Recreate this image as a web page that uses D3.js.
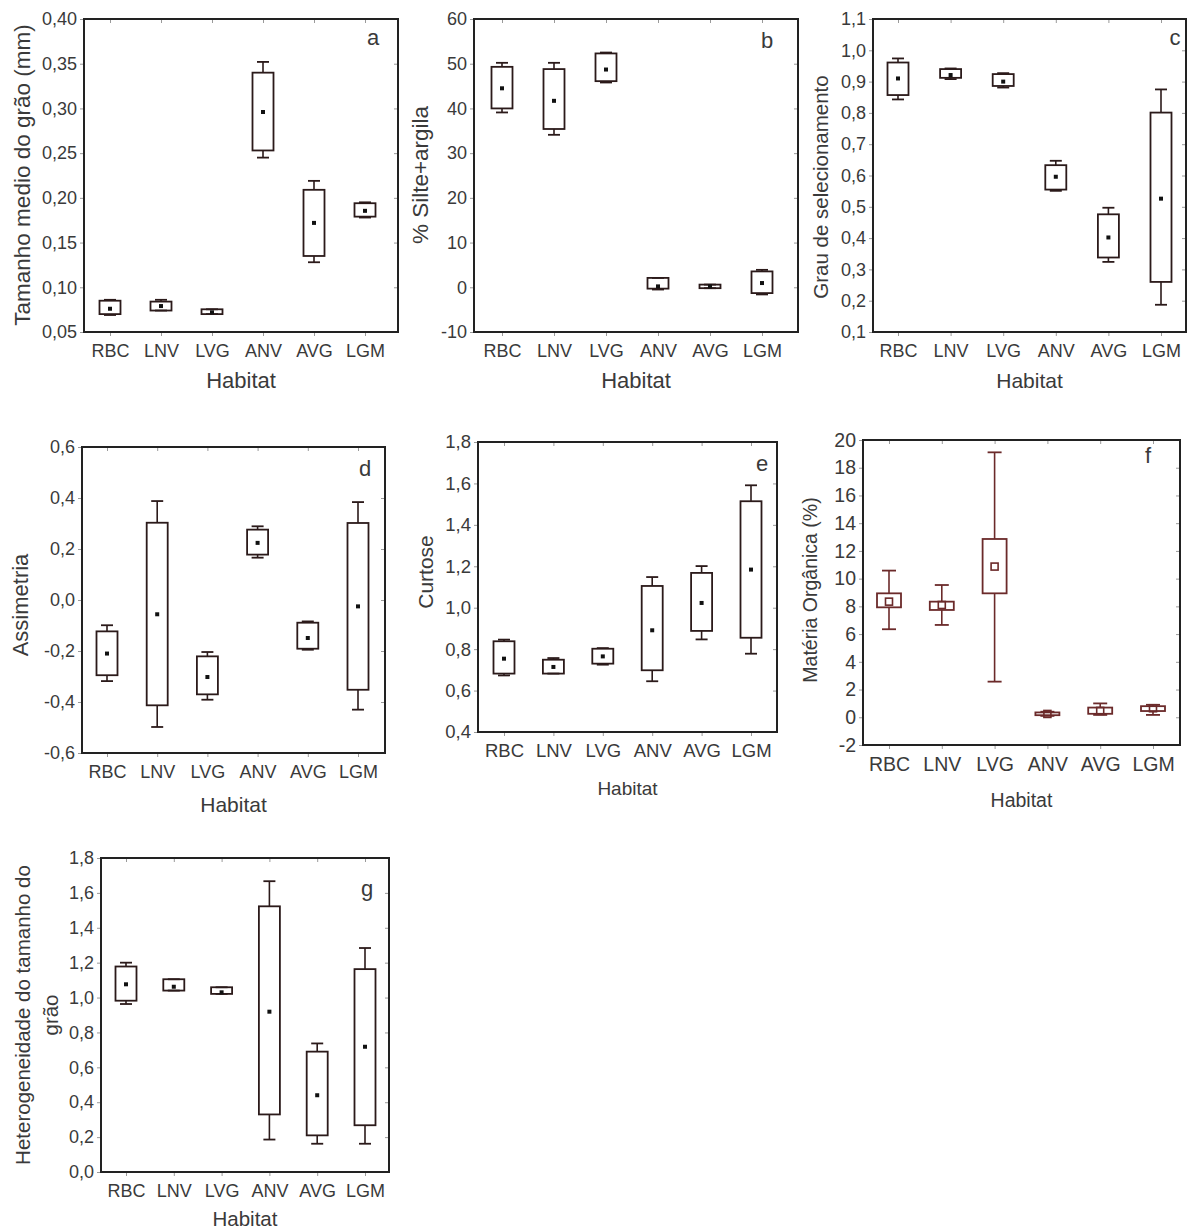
<!DOCTYPE html>
<html>
<head>
<meta charset="utf-8">
<script src="https://cdn.jsdelivr.net/npm/d3@7"></script>
<style>
  body { margin: 0; background: #fff; }
  svg { display: block; }
  text { font-family: "Liberation Sans", Arial, sans-serif; fill: #3a3a3a; }
</style>
</head>
<body>
<svg id="chart" width="1190" height="1230"></svg>
<script>
const habitats = ["RBC", "LNV", "LVG", "ANV", "AVG", "LGM"];

// each row: [whisker low, box low, centre, box high, whisker high]
const grainSize = [
  [0.069, 0.070, 0.076, 0.085, 0.086],
  [0.074, 0.074, 0.079, 0.084, 0.086],
  [0.070, 0.070, 0.072, 0.0754, 0.0754],
  [0.245, 0.253, 0.296, 0.340, 0.352],
  [0.128, 0.135, 0.172, 0.209, 0.219],
  [0.178, 0.179, 0.1855, 0.194, 0.195]
];
const siltClay = [
  [39.1, 40.0, 44.5, 49.3, 50.2],
  [34.1, 35.4, 41.7, 48.8, 50.2],
  [45.8, 46.1, 48.7, 52.3, 52.5],
  [-0.5, -0.3, 0.2, 2.1, 2.1],
  [-0.2, -0.2, 0.2, 0.6, 0.6],
  [-1.6, -1.3, 0.95, 3.55, 3.9]
];
const sorting = [
  [0.843, 0.857, 0.910, 0.961, 0.974],
  [0.908, 0.912, 0.921, 0.940, 0.942],
  [0.881, 0.886, 0.900, 0.924, 0.927],
  [0.551, 0.555, 0.596, 0.633, 0.647],
  [0.324, 0.338, 0.402, 0.476, 0.497],
  [0.187, 0.260, 0.526, 0.801, 0.875]
];
const skewness = [
  [-0.318, -0.295, -0.210, -0.123, -0.099],
  [-0.498, -0.413, -0.056, 0.303, 0.388],
  [-0.391, -0.370, -0.302, -0.221, -0.204],
  [0.166, 0.178, 0.224, 0.276, 0.289],
  [-0.195, -0.191, -0.149, -0.089, -0.084],
  [-0.430, -0.352, -0.025, 0.302, 0.384]
];
const kurtosis = [
  [0.673, 0.682, 0.754, 0.838, 0.846],
  [0.682, 0.682, 0.714, 0.749, 0.757],
  [0.725, 0.730, 0.765, 0.802, 0.805],
  [0.645, 0.698, 0.891, 1.105, 1.148],
  [0.847, 0.888, 1.023, 1.168, 1.201],
  [0.778, 0.855, 1.184, 1.514, 1.591]
];
const organicMatter = [
  [6.35, 7.93, 8.34, 8.94, 10.58],
  [6.66, 7.74, 8.10, 8.34, 9.54],
  [2.57, 8.94, 10.87, 12.86, 19.11],
  [0.10, 0.15, 0.24, 0.35, 0.40],
  [0.17, 0.25, 0.46, 0.70, 1.00],
  [0.17, 0.45, 0.65, 0.80, 0.90]
];
const heterogeneity = [
  [0.963, 0.982, 1.076, 1.178, 1.200],
  [1.040, 1.040, 1.062, 1.105, 1.105],
  [1.021, 1.021, 1.030, 1.059, 1.059],
  [0.186, 0.330, 0.919, 1.523, 1.667],
  [0.162, 0.210, 0.440, 0.690, 0.737],
  [0.162, 0.268, 0.718, 1.163, 1.284]
];

const ticksA = [0.05, 0.10, 0.15, 0.20, 0.25, 0.30, 0.35, 0.40];
const ticksB = [-10, 0, 10, 20, 30, 40, 50, 60];
const ticksC = [0.1, 0.2, 0.3, 0.4, 0.5, 0.6, 0.7, 0.8, 0.9, 1.0, 1.1];
const ticksD = [-0.6, -0.4, -0.2, 0.0, 0.2, 0.4, 0.6];
const ticksE = [0.4, 0.6, 0.8, 1.0, 1.2, 1.4, 1.6, 1.8];
const ticksF = [-2, 0, 2, 4, 6, 8, 10, 12, 14, 16, 18, 20];
const ticksG = [0.0, 0.2, 0.4, 0.6, 0.8, 1.0, 1.2, 1.4, 1.6, 1.8];

const locale = d3.formatLocale({ decimal: ",", thousands: ".", grouping: [3], currency: ["", ""], minus: "-" });

const INK = "#2b1a1a";
const INK_F = "#6b2a2a";

const panels = [
  { letter: "a", data: grainSize, ticks: ticksA, fmt: ".2f", title: ["Tamanho medio do grão (mm)"],
    frame: [84, 19, 398, 332], cats: [110, 365], titleX: [22], titleY: 175, letterPos: [373, 37],
    titleSize: 22.5, habSize: 22, habDy: 48, tickSize: 18 },
  { letter: "b", data: siltClay, ticks: ticksB, fmt: "d", title: ["% Silte+argila"],
    frame: [474, 19, 798, 332], cats: [502, 762], titleX: [420], titleY: 175, letterPos: [767, 40],
    titleSize: 22.5, habSize: 22, habDy: 48, tickSize: 18 },
  { letter: "c", data: sorting, ticks: ticksC, fmt: ".1f", title: ["Grau de selecionamento"],
    frame: [873, 19, 1186, 332], cats: [898, 1161], titleX: [820], titleY: 187, letterPos: [1175, 37],
    titleSize: 20.5, habSize: 21, habDy: 48, tickSize: 18 },
  { letter: "d", data: skewness, ticks: ticksD, fmt: ".1f", title: ["Assimetria"],
    frame: [82, 447, 385, 753], cats: [107, 358], titleX: [20], titleY: 605, letterPos: [365, 468],
    titleSize: 22, habSize: 21, habDy: 51, tickSize: 18 },
  { letter: "e", data: kurtosis, ticks: ticksE, fmt: ".1f", title: ["Curtose"],
    frame: [478, 442, 777, 732], cats: [504, 751], titleX: [425], titleY: 572, letterPos: [762, 463],
    titleSize: 21, habSize: 19, habDy: 56, tickSize: 18.5 },
  { letter: "f", data: organicMatter, ticks: ticksF, fmt: "d", title: ["Matéria Orgânica (%)"],
    frame: [863, 440, 1180, 745], cats: [889, 1153], titleX: [810], titleY: 590, letterPos: [1148, 455],
    titleSize: 19.5, habSize: 19.5, habDy: 55, tickSize: 19.5, hollow: true },
  { letter: "g", data: heterogeneity, ticks: ticksG, fmt: ".1f", title: ["Heterogeneidade do tamanho do", "grão"],
    frame: [101, 858, 389, 1172], cats: [126, 365], titleX: [22, 50], titleY: 1015, letterPos: [367, 888],
    titleSize: 20.5, habSize: 20.5, habDy: 46, tickSize: 18 }
];

const svg = d3.select("#chart");

function drawPanel(p) {
  const [x0, y0, x1, y1] = p.frame;
  const ink = p.hollow ? INK_F : INK;
  const g = svg.append("g").attr("class", "panel-" + p.letter);

  const x = d3.scalePoint().domain(habitats).range(p.cats);
  const y = d3.scaleLinear().domain(d3.extent(p.ticks)).range([y1, y0]);
  const fmt = locale.format(p.fmt);

  // axes: labelled left + bottom, small inner ticks top + right
  const axL = g.append("g").attr("transform", `translate(${x0},0)`)
    .call(d3.axisLeft(y).tickValues(p.ticks).tickFormat(fmt).tickSize(4).tickPadding(3));
  const axB = g.append("g").attr("transform", `translate(0,${y1})`)
    .call(d3.axisBottom(x).tickSize(4).tickPadding(8));
  const axT = g.append("g").attr("transform", `translate(0,${y0})`)
    .call(d3.axisTop(x).tickSize(-4).tickFormat(""));
  const axR = g.append("g").attr("transform", `translate(${x1},0)`)
    .call(d3.axisRight(y).tickValues(p.ticks).tickSize(-4).tickFormat(""));

  [axL, axB, axT, axR].forEach(a => {
    a.select(".domain").remove();
    a.selectAll(".tick line").attr("stroke", "#9a9a9a");
    a.selectAll("text").attr("font-size", p.tickSize).attr("fill", "#3a3a3a")
      .style("font-family", '"Liberation Sans", Arial, sans-serif');
  });

  // frame
  g.append("rect")
    .attr("x", x0).attr("y", y0)
    .attr("width", x1 - x0).attr("height", y1 - y0)
    .attr("fill", "none").attr("stroke", "#222").attr("stroke-width", 2);

  // boxes
  const bw = p.hollow ? 24 : 21;
  const cw = p.hollow ? 14 : 12;
  const rows = p.data.map((d, i) => ({ cat: habitats[i], v: d }));
  const box = g.selectAll(".box").data(rows).enter().append("g").attr("class", "box");

  box.append("line")
    .attr("x1", d => x(d.cat)).attr("x2", d => x(d.cat))
    .attr("y1", d => y(d.v[4])).attr("y2", d => y(d.v[3]))
    .attr("stroke", ink).attr("stroke-width", 1.6);
  box.append("line")
    .attr("x1", d => x(d.cat)).attr("x2", d => x(d.cat))
    .attr("y1", d => y(d.v[1])).attr("y2", d => y(d.v[0]))
    .attr("stroke", ink).attr("stroke-width", 1.6);
  [0, 4].forEach(k => {
    box.append("line")
      .attr("x1", d => x(d.cat) - cw / 2).attr("x2", d => x(d.cat) + cw / 2)
      .attr("y1", d => y(d.v[k])).attr("y2", d => y(d.v[k]))
      .attr("stroke", ink).attr("stroke-width", 1.8);
  });
  box.append("rect")
    .attr("x", d => x(d.cat) - bw / 2).attr("width", bw)
    .attr("y", d => y(d.v[3]))
    .attr("height", d => Math.max(2, y(d.v[1]) - y(d.v[3])))
    .attr("fill", "none").attr("stroke", ink).attr("stroke-width", 1.8);

  if (p.hollow) {
    box.append("rect")
      .attr("x", d => x(d.cat) - 3.5).attr("y", d => y(d.v[2]) - 3.5)
      .attr("width", 7).attr("height", 7)
      .attr("fill", "none").attr("stroke", ink).attr("stroke-width", 1.6);
  } else {
    box.append("rect")
      .attr("x", d => x(d.cat) - 2).attr("y", d => y(d.v[2]) - 2)
      .attr("width", 4).attr("height", 4)
      .attr("fill", "#111");
  }

  // axis titles
  p.title.forEach((line, i) => {
    g.append("text")
      .attr("transform", `translate(${p.titleX[i]},${p.titleY}) rotate(-90)`)
      .attr("text-anchor", "middle").attr("dominant-baseline", "central")
      .attr("font-size", p.titleSize).text(line);
  });

  g.append("text")
    .attr("x", (x0 + x1) / 2).attr("y", y1 + p.habDy)
    .attr("text-anchor", "middle").attr("dominant-baseline", "central")
    .attr("font-size", p.habSize).text("Habitat");

  g.append("text")
    .attr("x", p.letterPos[0]).attr("y", p.letterPos[1])
    .attr("text-anchor", "middle").attr("dominant-baseline", "central")
    .attr("font-size", 22).attr("fill", "#222").text(p.letter);
}

panels.forEach(drawPanel);
</script>
</body>
</html>
